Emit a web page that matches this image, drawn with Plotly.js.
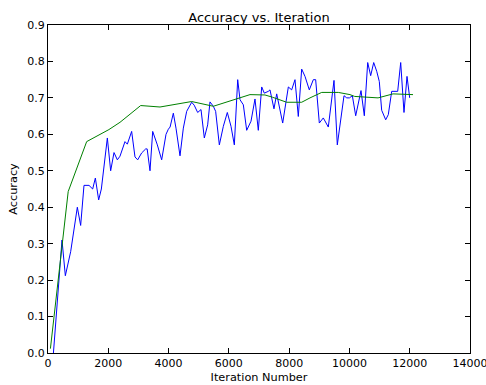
<!DOCTYPE html>
<html>
<head>
<meta charset="utf-8">
<script src="https://cdn.plot.ly/plotly-3.0.1.min.js"></script>
<style>html,body{margin:0;padding:0;background:#fff;overflow:hidden;}#chart{width:486px;height:385px;}</style>
</head>
<body>
<div id="chart"></div>
<script>
const testIter = [180,464,575,752,973,1084,1194,1360,1482,1571,1681,1770,1969,2079,2190,2300,2389,2554,2632,2775,2886,2975,3108,3241,3290,3384,3473,3627,3771,3915,3992,4050,4158,4246,4379,4490,4600,4766,4850,4965,5076,5186,5297,5374,5485,5562,5684,5817,5949,6071,6182,6293,6370,6480,6592,6735,6867,6977,7090,7176,7310,7365,7497,7587,7786,7973,8084,8194,8304,8416,8526,8669,8802,8880,9001,9133,9299,9488,9598,9720,9820,9910,10000,10097,10208,10384,10494,10606,10705,10805,10905,10991,11070,11203,11290,11402,11601,11701,11810,11910,12000];
const testAcc = [0.0,0.31,0.212,0.278,0.40,0.35,0.46,0.46,0.45,0.48,0.42,0.45,0.59,0.50,0.55,0.53,0.54,0.58,0.573,0.608,0.538,0.53,0.549,0.56,0.56,0.50,0.608,0.571,0.53,0.60,0.614,0.62,0.658,0.617,0.541,0.617,0.663,0.688,0.68,0.66,0.668,0.59,0.626,0.689,0.677,0.663,0.571,0.622,0.66,0.622,0.571,0.75,0.695,0.681,0.611,0.636,0.697,0.611,0.73,0.713,0.718,0.722,0.67,0.711,0.631,0.73,0.722,0.75,0.649,0.779,0.759,0.722,0.75,0.75,0.631,0.645,0.62,0.748,0.571,0.649,0.706,0.70,0.70,0.706,0.651,0.72,0.651,0.797,0.761,0.797,0.773,0.745,0.666,0.64,0.654,0.718,0.718,0.797,0.66,0.759,0.70];
const smoothIter = [80,670,1283,2020,2389,3075,3716,4766,5485,6204,6701,7198,7442,7918,8416,8692,9080,9631,10018,10175,10950,11447,12110];
const smoothAcc = [0.012,0.443,0.58,0.613,0.633,0.679,0.675,0.69,0.677,0.697,0.709,0.708,0.702,0.688,0.688,0.70,0.715,0.715,0.709,0.704,0.70,0.711,0.709];
const xTicks = [0,2000,4000,6000,8000,10000,12000,14000];
const yTicks = [0.0,0.1,0.2,0.3,0.4,0.5,0.6,0.7,0.8,0.9];

const fontFam = 'DejaVu Sans, sans-serif';
const traces = [
  {x: testIter, y: testAcc, type: 'scatter', mode: 'lines', line: {color: '#0000ff', width: 1}, hoverinfo: 'skip'},
  {x: smoothIter, y: smoothAcc, type: 'scatter', mode: 'lines', line: {color: '#008000', width: 1}, hoverinfo: 'skip'}
];
const axisCommon = {
  showgrid: false, zeroline: false, showline: true, linecolor: '#000', linewidth: 1,
  mirror: 'ticks', ticks: 'inside', ticklen: 5, tickwidth: 1, tickcolor: '#000',
  tickfont: {family: fontFam, size: 11, color: '#000'}
};
const layout = {
  width: 486, height: 385,
  margin: {l: 48, r: 16, t: 25, b: 32},
  paper_bgcolor: '#fff', plot_bgcolor: '#fff',
  showlegend: false,
  font: {family: fontFam, color: '#000'},
  title: {text: 'Accuracy vs. Iteration', font: {family: fontFam, size: 13, color: '#000'},
          x: 0.5, xref: 'paper', y: 1 - 17/385, yref: 'container', yanchor: 'middle'},
  xaxis: Object.assign({}, axisCommon, {range: [0, 14000], tickvals: xTicks, ticktext: xTicks.map(String),
          ticklabeloverflow: 'allow',
          title: {text: 'Iteration Number', font: {family: fontFam, size: 11.3, color: '#000'}, standoff: 3}}),
  yaxis: Object.assign({}, axisCommon, {range: [0, 0.9], tickvals: yTicks, ticktext: yTicks.map(v => v.toFixed(1)),
          title: {text: 'Accuracy', font: {family: fontFam, size: 11.3, color: '#000'}, standoff: 7}})
};
Plotly.newPlot('chart', traces, layout, {displayModeBar: false, staticPlot: true});
</script>
</body>
</html>
